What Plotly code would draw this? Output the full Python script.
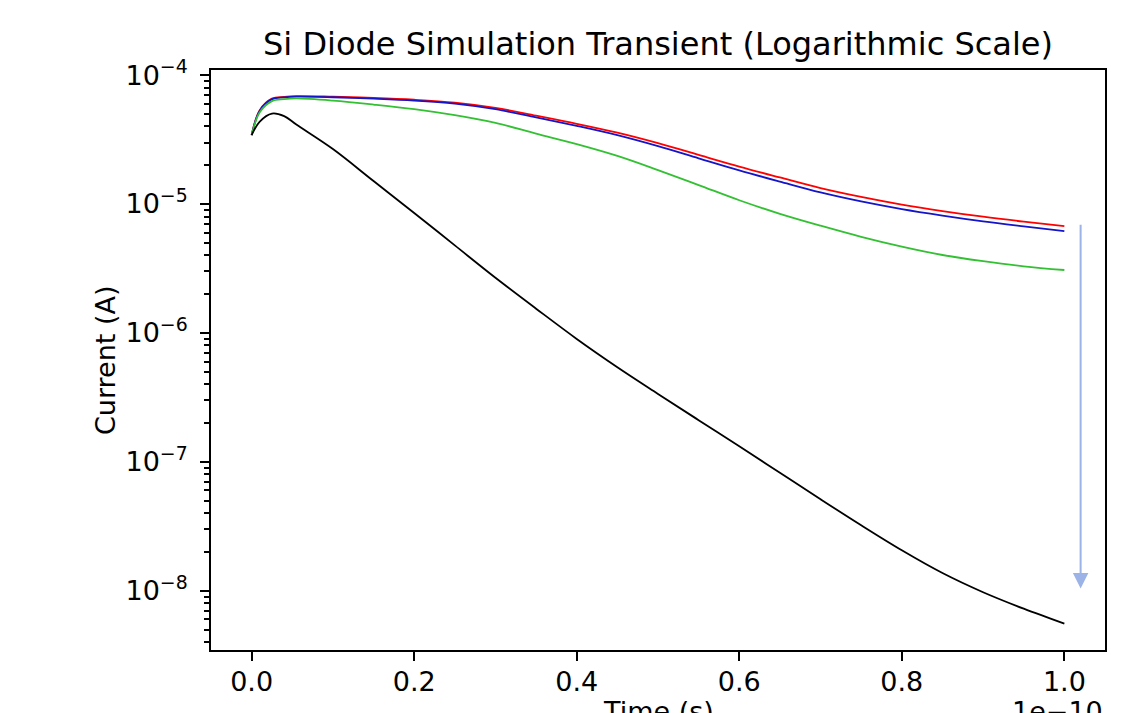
import numpy as np
import plotly.graph_objects as go

# Time axis (seconds)
time_s = [0.0, 0.01e-10, 0.025e-10, 0.04e-10, 0.055e-10, 0.1e-10, 0.15e-10, 0.2e-10, 0.25e-10,
          0.3e-10, 0.35e-10, 0.4e-10, 0.45e-10, 0.5e-10, 0.55e-10, 0.6e-10, 0.65e-10,
          0.7e-10, 0.75e-10, 0.8e-10, 0.85e-10, 0.9e-10, 0.95e-10, 1.0e-10]

# Currents (A)
current_red = [3.427e-5, 5.354e-5, 6.573e-5, 6.777e-5, 6.874e-5, 6.801e-5, 6.657e-5, 6.447e-5, 6.121e-5,
               5.569e-5, 4.845e-5, 4.193e-5, 3.577e-5, 2.966e-5, 2.407e-5, 1.953e-5, 1.608e-5,
               1.331e-5, 1.137e-5, 9.911e-6, 8.825e-6, 7.972e-6, 7.305e-6, 6.753e-6]
current_blue = [3.427e-5, 5.306e-5, 6.516e-5, 6.717e-5, 6.813e-5, 6.741e-5, 6.573e-5, 6.355e-5, 6.013e-5,
                5.441e-5, 4.700e-5, 4.038e-5, 3.421e-5, 2.811e-5, 2.265e-5, 1.825e-5, 1.494e-5,
                1.232e-5, 1.049e-5, 9.146e-6, 8.145e-6, 7.344e-6, 6.717e-6, 6.176e-6]
current_green = [3.427e-5, 5.166e-5, 6.288e-5, 6.516e-5, 6.598e-5, 6.344e-5, 5.917e-5, 5.451e-5, 4.888e-5,
                 4.261e-5, 3.520e-5, 2.918e-5, 2.364e-5, 1.835e-5, 1.404e-5, 1.070e-5, 8.395e-6,
                 6.789e-6, 5.569e-6, 4.675e-6, 4.024e-6, 3.603e-6, 3.289e-6, 3.078e-6]
current_black = [3.427e-5, 4.361e-5, 5.030e-5, 4.810e-5, 4.133e-5, 2.669e-5, 1.508e-5, 8.532e-6, 4.776e-6,
                 2.679e-6, 1.543e-6, 8.984e-7, 5.422e-7, 3.366e-7, 2.105e-7, 1.319e-7, 8.216e-8,
                 5.120e-8, 3.219e-8, 2.060e-8, 1.372e-8, 9.736e-9, 7.253e-9, 5.549e-9]

series_values = [current_red, current_blue, current_green, current_black]
series_colors = ["#ff0000", "#1414c8", "#33c033", "#000000"]

x_tick_vals = [0.0, 0.2e-10, 0.4e-10, 0.6e-10, 0.8e-10, 1.0e-10]
x_tick_text = ["0.0", "0.2", "0.4", "0.6", "0.8", "1.0"]

# Arrow (time, start current, end current)
arrow_time = 1.02e-10
arrow_from = 7.1e-6
arrow_to = 1.04e-8

FONT = "DejaVu Sans"
FS = 27

fig = go.Figure()
for vals, col in zip(series_values, series_colors):
    fig.add_trace(go.Scatter(x=time_s, y=vals, mode="lines",
                             line=dict(color=col, width=1.8, shape="spline", smoothing=1.0),
                             showlegend=False, hoverinfo="skip"))

fig.update_layout(
    width=1145, height=713,
    margin=dict(l=211, r=40, t=70, b=63),
    paper_bgcolor="white", plot_bgcolor="white",
    font=dict(family=FONT, size=FS, color="black"),
    title=dict(text="Si Diode Simulation Transient (Logarithmic Scale)",
               font=dict(family=FONT, size=32, color="black"),
               x=0.5, xref="paper", xanchor="center",
               y=1 - 44 / 713, yref="container", yanchor="middle"),
)

fig.update_xaxes(
    range=[-0.05e-10, 1.05e-10],
    tickvals=x_tick_vals, ticktext=x_tick_text,
    ticks="outside", ticklen=9, tickwidth=2, tickcolor="black",
    showline=True, linewidth=2, linecolor="black", mirror=True,
    showgrid=False, zeroline=False,
    tickfont=dict(family=FONT, size=FS, color="black"),
    ticklabelstandoff=-2,
)
# plotly enlarges power-format log labels by 1.25, so compensate
fig.update_yaxes(
    type="log", range=[-8.46, -3.96], dtick=1,
    exponentformat="power", showexponent="all",
    ticks="outside", ticklen=9, tickwidth=2, tickcolor="black",
    minor=dict(ticks="outside", ticklen=5, tickwidth=1.5, tickcolor="black", dtick="D1", showgrid=False),
    showline=True, linewidth=2, linecolor="black", mirror=True,
    showgrid=False, zeroline=False,
    tickfont=dict(family=FONT, size=FS / 1.25, color="black"),
    ticklabelstandoff=8,
)

# Axis labels
fig.add_annotation(text="Current (A)", xref="paper", yref="paper",
                   x=(105 - 211) / 894, y=0.5, xanchor="center", yanchor="middle",
                   textangle=-90, showarrow=False, font=dict(family=FONT, size=FS, color="black"))
fig.add_annotation(text="Time (s)", xref="paper", yref="paper",
                   x=0.5, y=(650 - 694) / 580, xanchor="center", yanchor="top",
                   showarrow=False, font=dict(family=FONT, size=FS, color="black"))
fig.add_annotation(text="1e\u221210", xref="paper", yref="paper",
                   x=1.0, y=(650 - 694) / 580, xanchor="right", yanchor="top",
                   showarrow=False, font=dict(family=FONT, size=FS, color="black"))

# Arrow
fig.add_annotation(x=arrow_time, y=np.log10(arrow_to), xref="x", yref="y",
                   ax=arrow_time, ay=np.log10(arrow_from), axref="x", ayref="y",
                   text="", showarrow=True, arrowhead=2, arrowsize=1.55, arrowwidth=2,
                   arrowcolor="#9bb3e6")

fig.write_html("out.html")
